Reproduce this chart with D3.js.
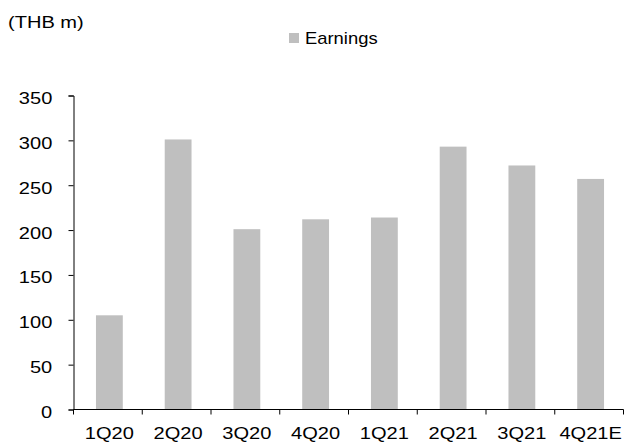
<!DOCTYPE html>
<html>
<head>
<meta charset="utf-8">
<script src="https://cdn.jsdelivr.net/npm/d3@7"></script>
<style>
  body { margin: 0; background: #fff; }
  text { font-family: "Liberation Sans", Arial, sans-serif; fill: #000; }
</style>
</head>
<body>
<svg id="chart" width="625" height="443"></svg>
<script>
// chart data
const quarters = ['1Q20', '2Q20', '3Q20', '4Q20', '1Q21', '2Q21', '3Q21', '4Q21E'];
const earnings = [105, 301, 201, 212, 214, 293, 272, 257];
const yTicks = [0, 50, 100, 150, 200, 250, 300, 350];

const svg = d3.select('#chart');
const plotL = 73.5, plotR = 623.5, plotT = 95.5, plotB = 409.5;
const stretch = 1.18; // the source text is a bit wide

const x = d3.scaleBand().domain(quarters).range([plotL + 1.5, plotR + 1.5]).paddingInner(0.61).paddingOuter(0.305);
const y = d3.scaleLinear().domain([0, 350]).range([plotB, plotT]);

svg.selectAll('rect.bar')
  .data(earnings).enter()
  .append('rect')
  .attr('class', 'bar')
  .attr('x', (d, i) => x(quarters[i]))
  .attr('width', x.bandwidth())
  .attr('y', d => y(d))
  .attr('height', d => plotB - y(d))
  .style('fill', '#bfbfbf');

// y axis
const yAxis = svg.append('g')
  .attr('transform', `translate(${plotL},0)`)
  .call(d3.axisLeft(y).tickValues(yTicks).tickSize(5).tickPadding(13));
yAxis.selectAll('text')
  .attr('dy', 8)
  .attr('transform', `scale(${stretch},1)`)
  .style('font-size', '17px');

// x axis, ticks between categories
const step = (plotR - plotL) / quarters.length;
const xAxis = svg.append('g').attr('transform', `translate(0,${plotB})`);
xAxis.append('line')
  .attr('x1', plotL).attr('x2', plotR)
  .style('stroke', '#000');
xAxis.selectAll('line.tk')
  .data(d3.range(quarters.length + 1)).enter()
  .append('line')
  .attr('class', 'tk')
  .attr('x1', i => plotL + i * step).attr('x2', i => plotL + i * step)
  .attr('y1', 0).attr('y2', 5)
  .style('stroke', '#000');
xAxis.selectAll('text')
  .data(quarters).enter()
  .append('text')
  .attr('transform', d => `translate(${x(d) + x.bandwidth() / 2},29.5) scale(${stretch},1)`)
  .attr('text-anchor', 'middle')
  .style('font-size', '17px')
  .text(d => d);

svg.selectAll('.domain').style('stroke', '#000');
svg.selectAll('.tick line').style('stroke', '#000');

// unit label
svg.append('text')
  .attr('transform', `translate(8,28) scale(${stretch},1)`)
  .style('font-size', '17px')
  .text('(THB m)');

// legend
svg.append('rect')
  .attr('x', 289).attr('y', 33)
  .attr('width', 10).attr('height', 10)
  .style('fill', '#bfbfbf');
svg.append('text')
  .attr('transform', `translate(305,44) scale(1.15,1)`)
  .style('font-size', '16px')
  .text('Earnings');
</script>
</body>
</html>
